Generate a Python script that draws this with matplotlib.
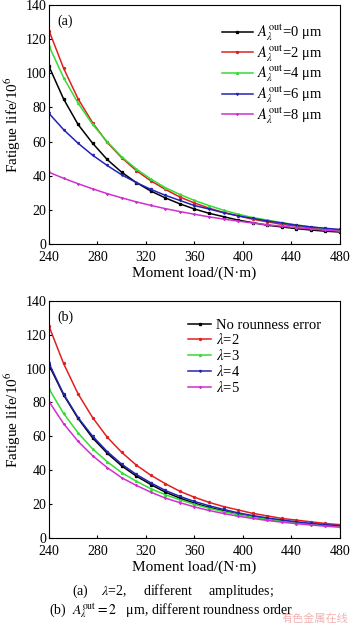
import numpy as np
import matplotlib
matplotlib.use("Agg")
import matplotlib.pyplot as plt

plt.rcParams['font.family'] = ['Liberation Serif', 'DejaVu Serif']
plt.rcParams['mathtext.fontset'] = 'stix'

load = [240, 252, 264, 276, 288, 300, 312, 324, 336, 348, 360,
        372, 384, 396, 408, 420, 432, 444, 456, 468, 480]

# (a) lambda = 2, different amplitudes
amp_0 = [104, 85, 70, 59, 49.5, 42, 36, 31, 27, 23.5, 20.5, 18, 16, 14, 12.5, 11, 10, 9, 8.2, 7.5, 7]
amp_2 = [125, 103, 85, 71, 59.5, 50.5, 43, 37, 32, 27.5, 24, 21, 18.5, 16.5, 14.5, 13, 11.5, 10.5, 9.5, 8.5, 7.8]
amp_4 = [116, 97.5, 82.5, 70, 60, 51, 44, 38, 33, 29, 25.5, 22.5, 19.8, 17.5, 15.5, 14, 12.5, 11.2, 10, 9, 8.2]
amp_6 = [76.5, 67, 59, 52, 46, 40.5, 36, 32, 28.5, 25.5, 22.5, 20.5, 18.3, 16.5, 15, 13.5, 12.3, 11, 10, 9.2, 8.5]
amp_8 = [42, 38.5, 35.3, 32.3, 29.5, 27, 24.7, 22.6, 20.7, 19, 17.4, 15.9, 14.6, 13.4, 12.3, 11.3, 10.4, 9.6, 8.8, 8.1, 7.5]
amp_labels = [r'$A_\lambda^{\rm out}$=0 μm', r'$A_\lambda^{\rm out}$=2 μm', r'$A_\lambda^{\rm out}$=4 μm',
              r'$A_\lambda^{\rm out}$=6 μm', r'$A_\lambda^{\rm out}$=8 μm']

# (b) A = 2 um, different roundness order
no_err = [102, 84.5, 70.5, 59, 50, 42.5, 36.5, 31.5, 27, 23.5, 20.5, 18, 16, 14, 12.5, 11, 10, 9, 8.2, 7.5, 7]
lam_2 = [125, 103, 85, 71, 59.5, 50.5, 43, 37, 32, 27.5, 24, 21, 18.5, 16.5, 14.5, 13, 11.5, 10.5, 9.5, 8.5, 7.8]
lam_3 = [88, 73.5, 62, 52.5, 45, 38.5, 33.5, 29, 25.5, 22.5, 19.8, 17.5, 15.5, 13.8, 12.3, 11, 10, 9, 8.2, 7.4, 6.8]
lam_4 = [103, 85, 71, 60, 51, 43.5, 37.5, 32.5, 28, 24.5, 21.5, 19, 16.8, 14.8, 13.2, 11.8, 10.6, 9.5, 8.6, 7.8, 7.2]
lam_5 = [80.5, 67.5, 57, 48.5, 41.5, 35.5, 31, 27, 23.5, 20.8, 18.3, 16.2, 14.4, 12.8, 11.5, 10.3, 9.3, 8.4, 7.6, 6.9, 6.3]
order_labels = ['No rounness error', r'$\lambda$=2', r'$\lambda$=3', r'$\lambda$=4', r'$\lambda$=5']

colors = ['black', '#e02020', '#33dd33', '#2424b4', '#d030d0']
markers = ['s', 'o', '^', 'v', '*']

fig = plt.figure(figsize=(3.5, 6.24), dpi=100)
fig.set_facecolor('white')
ax1 = fig.add_axes([0.14, 0.609, 0.831, 0.383])
ax2 = fig.add_axes([0.14, 0.138, 0.831, 0.380])


def draw(ax, series, labels, tag, anchor, handlelen, spacing, lsize):
    for y, lab, c, m in zip(series, labels, colors, markers):
        ax.plot(load, y, color=c, lw=1.1, marker=m, ms=1.4, label=lab)
    ax.set_xlim(240, 480)
    ax.set_ylim(0, 140)
    ax.set_xticks(np.arange(240, 481, 40))
    ax.set_yticks(np.arange(0, 141, 20))
    ax.tick_params(direction='in', length=2, labelsize=10)
    ax.tick_params(axis='x', pad=5)
    ax.tick_params(axis='y', pad=2)
    ax.set_xlabel('Moment load/(N·m)', fontsize=11, labelpad=2)
    ax.set_ylabel(r'Fatigue life/10$^6$', fontsize=11, labelpad=2)
    ax.text(0.03, 0.96, tag, transform=ax.transAxes, fontsize=10, va='top')
    ax.legend(loc='upper right', bbox_to_anchor=anchor, frameon=False, fontsize=lsize,
              handlelength=handlelen, handletextpad=0.3, labelspacing=spacing,
              borderaxespad=0.0, borderpad=0.0)


draw(ax1, [amp_0, amp_2, amp_4, amp_6, amp_8], amp_labels, '(a)', (0.94, 0.925), 2.1, 0.02, 10.5)
draw(ax2, [no_err, lam_2, lam_3, lam_4, lam_5], order_labels, '(b)', (0.935, 0.925), 1.6, 0.05, 10.5)

fig.text(0.495, 0.053, r'(a)    $\lambda$=2,     different     amplitudes;', ha='center', va='center', fontsize=10)
fig.text(0.49, 0.022, r'(b)  $A_\lambda^{\rm out}=2$   μm, different roundness order', ha='center', va='center', fontsize=10)
fig.text(0.995, 0.0, '有色金属在线', ha='right', va='bottom', fontsize=8, color='#f0a0a0', alpha=0.8,
         family=['Noto Sans CJK SC', 'DejaVu Sans'])

fig.savefig('out.png', dpi=100)
